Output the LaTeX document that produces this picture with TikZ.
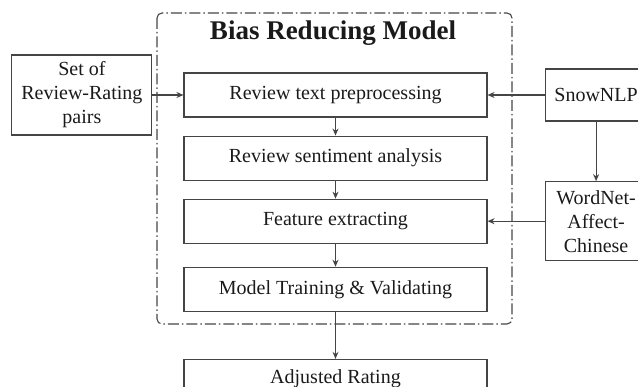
\documentclass[tikz,border=0pt]{standalone}
\usepackage{fontspec}
\setmainfont{Liberation Serif}
\usetikzlibrary{arrows.meta,positioning}
\definecolor{linegray}{HTML}{454545}
\definecolor{inkgray}{HTML}{1A1A1A}
\tikzset{
  >={Stealth[length=7pt,width=6pt]},
  font=\fontsize{20}{24}\selectfont,
  stage/.style ={draw=linegray, line width=1.1pt, text=inkgray, minimum height=44pt, minimum width=303pt, align=center, inner sep=2pt},
  src/.style   ={draw=linegray, line width=1.1pt, text=inkgray, minimum width=102pt, align=center, inner sep=2pt},
  arr/.style   ={->, line width=1.1pt, linegray},
  frame/.style ={draw=linegray, line width=1.1pt, rounded corners=5pt, dash pattern=on 11pt off 3pt on 1.5pt off 3pt},
}

\begin{document}
\begin{tikzpicture}[x=1pt, y=-1pt, node distance=18pt]
  \clip (0,0) rectangle (638,387);
  % dash-dot frame of the model
  \draw[frame] (157,13) rectangle (512,324);
  \node[font=\fontsize{27}{30}\selectfont\bfseries, text=inkgray] (title) at (333,33) {Bias Reducing Model};
  \node[stage] (prep) at (335.5,95) {Review text preprocessing};
  \node[stage, below=of prep] (senti) {Review sentiment analysis};
  \node[stage, below=of senti] (feat) {Feature extracting};
  \node[stage, below=23pt of feat] (train) {Model Training \& Validating};
  \node[stage, minimum height=38pt, below=47pt of train] (adj) {Adjusted Rating};
  % inputs and resources
  \node[src, minimum width=140pt, minimum height=80pt, left=31pt of prep] (pairs) {Set of\\Review-Rating\\pairs};
  \node[src, minimum height=52pt, right=57pt of prep] (snow) {SnowNLP};
  \node[src, minimum height=79pt] (wna) at (snow |- feat) {WordNet-\\Affect-\\Chinese};
  % flow
  \draw[arr] (pairs) -- (prep);
  \draw[arr] (snow) -- (prep);
  \draw[arr] (snow) -- (wna);
  \draw[arr] (wna) -- (feat);
  \draw[arr] (prep) -- (senti);
  \draw[arr] (senti) -- (feat);
  \draw[arr] (feat) -- (train);
  \draw[arr] (train) -- (adj);
\end{tikzpicture}
\end{document}
